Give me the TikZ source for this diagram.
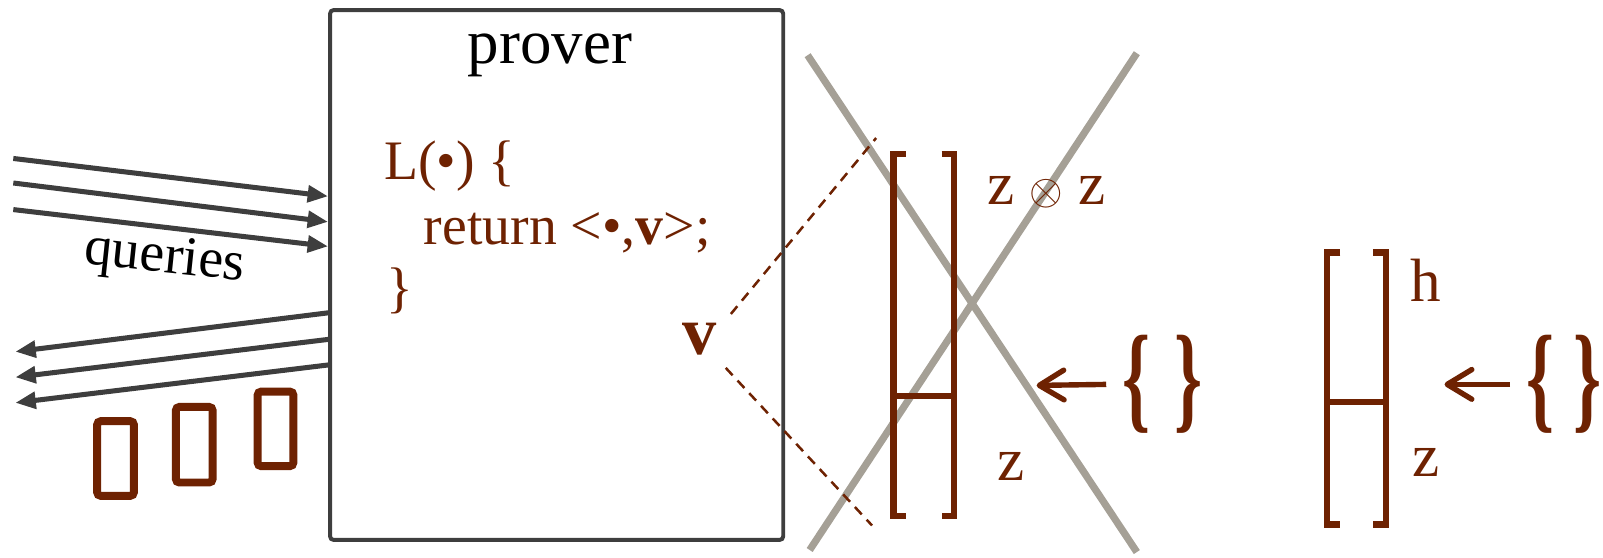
\documentclass[tikz,border=0pt]{standalone}
\usepackage{fontspec}
\usepackage{amsmath}
\usepackage{amssymb}
\usepackage{xcolor}
\usetikzlibrary{positioning, arrows.meta, calc}
\setmainfont{Liberation Serif}

\definecolor{rust}{RGB}{110,34,2}
\definecolor{boxgray}{RGB}{62,62,62}
\definecolor{crossgray}{RGB}{165,160,150}

\begin{document}
\begin{tikzpicture}[x=0.01cm, y=-0.01cm,
    qarrow/.style={draw=boxgray, line width=1.4pt, -{Triangle[length=2mm, width=1.6mm]}},
    tile/.style={draw=rust, line width=2.2pt, rounded corners=1pt},
    bracket/.style={draw=rust, line width=1.7pt},
    cross/.style={draw=crossgray, line width=2pt},
    ray/.style={draw=rust, line width=0.7pt, dash pattern=on 2.8pt off 2pt},
    setarrow/.style={draw=rust, line width=1.5pt, -{Straight Barb[length=2.4mm, width=2.9mm, round]}},
    code/.style={text=rust, inner sep=0pt, anchor=base west, font=\fontsize{15.5}{18}\selectfont},
    lbl/.style={text=rust, inner sep=0pt, anchor=base west, font=\fontsize{17}{20}\selectfont},
    bigbrace/.style={text=rust, inner sep=0pt, font=\fontsize{33}{33}\selectfont\bfseries}
]
    \useasboundingbox (0,0) rectangle (1568,545);

    % The prover box and its program
    \node[draw=boxgray, line width=1.1pt, rounded corners=1pt, minimum width=4.43cm, minimum height=5.18cm, inner sep=0pt] (box) at (544.5,269) {};
    \node[anchor=base, inner sep=0pt, font=\fontsize{17.5}{20}\selectfont] (title) at (538,62) {prover};
    \node[code] (line1) at (375,176) {L(\textbullet) \{};
    \node[code] (line2) at (414,239) {return <\textbullet,\textbf{v}>;};
    \node[code] (line3) at (377,300) {\}};

    % Queries coming in
    \coordinate (in1) at (13,155);
    \coordinate (in2) at (13,179);
    \coordinate (in3) at (13,205);
    \draw[qarrow] (in1) -- (box.west |- 0,192);
    \draw[qarrow] (in2) -- (box.west |- 0,217);
    \draw[qarrow] (in3) -- (box.west |- 0,241);
    \node[font=\fontsize{15.5}{17}\selectfont, rotate=-6] (qlbl) at (161,254) {queries};

    % Answers going out
    \coordinate (out1) at (15,344);
    \coordinate (out2) at (15,369);
    \coordinate (out3) at (15,394);
    \draw[qarrow] (box.west |- 0,306) -- (out1);
    \draw[qarrow] (box.west |- 0,332) -- (out2);
    \draw[qarrow] (box.west |- 0,357) -- (out3);
    \draw[tile] (95,412) rectangle (131,485);
    \draw[tile] (172,398) rectangle (208,472);
    \draw[tile] (252,383) rectangle (287,456);

    % The vector v and its two views
    \node[anchor=base, inner sep=1pt, text=rust, font=\fontsize{19}{21}\selectfont\bfseries] (vec) at (684,347) {v};
    \coordinate (rayA) at (857,135);
    \coordinate (rayB) at (853,514);

    % Crossed-out layout
    \draw[cross] (790,54) -- (1112,540);
    \draw[cross] (1112,52) -- (792,538);
    \draw[ray] ([shift={(10,-5)}]vec.north east) -- (rayA);
    \draw[ray] ([shift={(5,8)}]vec.south east) -- (rayB);
    \draw[bracket] (886,151) -- (874,151) -- (874,505) -- (886,505);
    \draw[bracket] (921,151) -- (933,151) -- (933,505) -- (921,505);
    \draw[bracket] (874,387) -- (933,387);
    \node[lbl] (zz) at (965,200) {z $\scriptstyle\otimes$ z};
    \node[lbl] (zlow) at (975,470) {z};
    \node[bigbrace] (lb1) at (1111.5,376) {\scalebox{0.6}[1]{\{}};
    \node[bigbrace] (rb1) at (1162.5,376) {\scalebox{0.6}[1]{\}}};
    \coordinate (tip1) at (1014,377);
    \draw[setarrow] ([xshift=-0.15cm]lb1.west) -- (tip1);

    % Working layout
    \draw[bracket] (1311,247) -- (1298,247) -- (1298,513) -- (1311,513);
    \draw[bracket] (1343,247) -- (1356,247) -- (1356,513) -- (1343,513);
    \draw[bracket] (1298,393) -- (1356,393);
    \node[lbl] (hlbl) at (1379,295) {h};
    \node[lbl] (zlow2) at (1381,466) {z};
    \node[bigbrace] (lb2) at (1506.5,376) {\scalebox{0.6}[1]{\{}};
    \node[bigbrace] (rb2) at (1553,376) {\scalebox{0.6}[1]{\}}};
    \coordinate (tip2) at (1413,376);
    \draw[setarrow] ([xshift=-0.15cm]lb2.west) -- (tip2);

\end{tikzpicture}
\end{document}
